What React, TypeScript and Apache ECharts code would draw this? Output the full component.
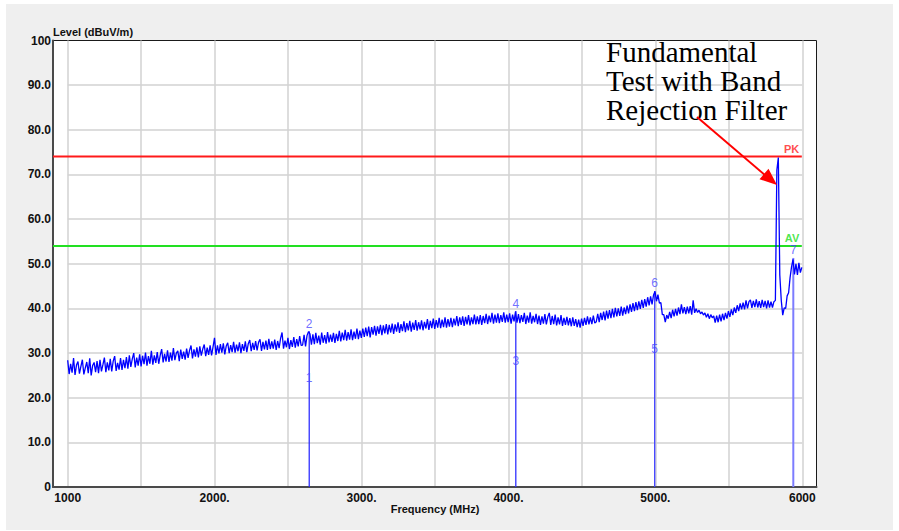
import React, { useEffect, useRef } from "react";
import * as echarts from "echarts";

// ---- data ----
const START_MHZ = 1000;
const STEP_MHZ = 10;
// measured level (dBuV/m), one reading every 10 MHz from 1000 to 6000 MHz
const levelDbuv: number[] = [
  28.4, 25.3, 27.6, 25.6, 28.9, 25.1, 27.3, 28.1, 25.4, 27.0, 28.5, 25.2, 26.7, 28.0, 25.5, 28.8, 25.0, 27.2, 27.9, 25.7,
  28.2, 25.5, 28.5, 25.9, 27.4, 29.0, 25.7, 27.9, 26.1, 28.7, 25.9, 28.2, 29.3, 26.0, 27.8, 26.3, 28.9, 26.2, 28.5, 26.6,
  29.1, 26.5, 29.5, 26.9, 28.7, 30.0, 26.8, 29.0, 27.2, 29.7, 27.0, 29.4, 27.5, 30.1, 27.2, 29.3, 27.6, 30.5, 27.4, 29.5,
  27.8, 30.2, 27.6, 29.5, 30.9, 27.9, 29.8, 28.1, 30.6, 28.0, 30.1, 28.3, 31.1, 28.4, 30.0, 30.5, 28.2, 30.8, 28.7, 30.3,
  28.5, 31.0, 28.9, 30.6, 31.7, 28.8, 30.8, 29.2, 31.3, 29.0, 31.5, 29.4, 30.9, 31.9, 29.3, 31.2, 29.6, 31.7, 29.5, 31.4,
  33.4, 29.6, 31.7, 29.9, 32.0, 30.1, 32.2, 29.7, 31.6, 32.3, 30.0, 31.8, 30.2, 32.5, 30.1, 31.9, 30.4, 32.4, 30.0, 32.0,
  30.5, 32.6, 30.2, 32.1, 32.9, 30.4, 32.3, 30.7, 32.7, 30.6, 32.4, 33.1, 30.5, 32.5, 30.8, 32.8, 30.7, 33.2, 30.9, 32.6,
  31.0, 33.0, 30.7, 32.7, 31.1, 33.3, 34.6, 31.0, 32.8, 31.3, 33.4, 30.9, 32.9, 31.4, 33.6, 31.2, 33.1, 31.5, 33.8, 31.7,
  31.8, 34.1, 31.5, 33.9, 34.8, 34.3, 31.9, 34.2, 32.0, 34.5, 32.2, 33.9, 31.9, 34.6, 32.3, 34.0, 32.1, 34.7, 32.4, 34.1,
  32.5, 34.5, 32.3, 34.3, 32.7, 35.0, 32.6, 34.6, 32.9, 35.2, 32.8, 34.7, 33.0, 35.3, 32.9, 34.8, 33.2, 35.5, 33.1, 35.0,
  33.4, 35.5, 33.6, 35.7, 33.8, 35.9, 33.5, 35.8, 34.1, 36.1, 33.9, 36.0, 34.3, 36.3, 34.0, 36.2, 34.4, 36.5, 34.2, 36.3,
  34.6, 36.6, 34.3, 36.4, 34.8, 36.9, 34.5, 36.5, 34.9, 37.1, 34.7, 36.7, 35.1, 37.2, 34.8, 36.8, 35.2, 37.4, 35.0, 36.9,
  35.3, 37.3, 35.1, 37.0, 35.5, 37.6, 35.2, 37.2, 35.6, 37.7, 35.4, 37.4, 35.7, 37.9, 35.6, 37.5, 35.8, 38.0, 35.7, 37.6,
  35.9, 37.9, 35.8, 37.7, 36.2, 38.3, 36.0, 38.0, 36.3, 38.2, 36.1, 38.1, 36.4, 38.5, 36.2, 38.0, 36.5, 38.6, 36.4, 38.2,
  36.5, 38.5, 36.3, 38.3, 36.7, 38.8, 36.5, 38.4, 36.9, 39.0, 36.6, 38.6, 36.8, 38.9, 36.7, 38.5, 37.0, 39.1, 36.8, 38.6,
  36.9, 38.9, 36.6, 38.6, 37.1, 39.3, 36.8, 38.7, 36.7, 38.5, 37.0, 39.0, 36.5, 38.4, 36.8, 39.1, 36.6, 38.3, 36.9, 38.8,
  36.5, 38.4, 36.3, 38.2, 36.6, 38.7, 36.4, 38.1, 39.0, 36.3, 38.3, 36.5, 38.6, 36.2, 38.0, 36.4, 38.5, 36.1, 37.9, 36.3,
  38.1, 36.2, 37.8, 36.0, 38.0, 36.1, 37.6, 35.8, 37.5, 35.7, 37.7, 36.1, 37.9, 36.3, 38.2, 36.4, 38.0, 36.5, 38.4, 36.7,
  37.0, 38.8, 36.9, 39.0, 37.4, 39.3, 37.3, 39.5, 37.7, 39.6, 37.8, 39.9, 38.0, 40.1, 38.2, 40.0, 38.3, 40.4, 38.4, 40.2,
  38.7, 40.6, 38.9, 40.9, 39.2, 41.2, 39.4, 41.4, 39.6, 41.6, 39.9, 41.9, 40.1, 42.1, 40.4, 42.5, 40.7, 42.7, 40.9, 43.0,
  43.8, 41.6, 43.1, 41.2, 41.3, 38.6, 38.6, 36.9, 38.5, 37.7, 39.2, 37.8, 39.7, 38.2, 39.9, 38.4, 40.2, 38.7, 40.9, 38.9,
  40.3, 38.7, 40.4, 38.9, 40.5, 38.6, 41.8, 39.0, 39.9, 39.1, 39.6, 38.8, 39.2, 38.5, 39.0, 38.0, 38.8, 37.7, 38.6, 37.9,
  38.3, 36.8, 38.4, 36.9, 38.6, 37.1, 38.8, 37.4, 39.0, 37.7, 39.4, 38.1, 39.8, 38.5, 40.2, 39.0, 40.7, 39.4, 41.1, 39.8,
  41.3, 39.8, 41.8, 40.0, 41.5, 41.9, 40.1, 41.7, 40.3, 42.0, 40.2, 41.6, 40.1, 41.9, 40.3, 41.7, 40.0, 41.8, 40.2, 41.5,
  40.2, 41.5, 41.8, 71.0, 73.8, 47.5, 41.8, 38.5, 40.1, 40.0, 42.8, 43.5, 46.9, 49.3, 51.0, 47.6, 50.0, 47.5, 50.2, 48.0,
  49.2,
];
const freqMhz = levelDbuv.map((_, i) => START_MHZ + STEP_MHZ * i);

const markerNames = ["1", "2", "3", "4", "5", "6", "7"];
const markerFreqs = [2645, 2645, 4052, 4052, 4998, 4998, 5942];
const markerLevels = [22.8, 34.9, 26.6, 39.4, 29.3, 43.9, 51.3];

const pkLimit = 74;
const avLimit = 54;

const xMin = 900;
const xMax = 6100;
const gridStartMhz = 1000;
const gridEndMhz = 6000;
const annotationLines = ["Fundamental", "Test with Band", "Rejection Filter"];

// ---- layout ----
const W = 899;
const H = 531;
const FRAME_L = 53;
const FRAME_T = 40.5;
const FRAME_R = 816.5;
const FRAME_B = 487;
const INNER_L = 67.7;
const INNER_R = 802.3;
const SANS = "'Liberation Sans', Arial, Helvetica, sans-serif";
const SERIF = "'Liberation Serif', 'Times New Roman', serif";

export default function App() {
  const ref = useRef<HTMLDivElement>(null);

  useEffect(() => {
    if (!ref.current) return;
    const chart = echarts.init(ref.current, undefined, { renderer: "svg" });

    // stems: one per marker frequency, up to the highest marker there
    const stemMap = new Map<number, number>();
    markerFreqs.forEach((f, i) => {
      stemMap.set(f, Math.max(stemMap.get(f) ?? 0, markerLevels[i]));
    });
    const stems = Array.from(stemMap.entries());
    const stemStyles = [
      { color: "#1f1fff", width: 1.2 },
      { color: "#3030ff", width: 1.3 },
      { color: "#4040ff", width: 1.3 },
      { color: "#7c7cff", width: 2 },
    ];

    const stemSeries = stems.map(([f, top], i) => ({
      type: "line",
      xAxisIndex: 0,
      yAxisIndex: 0,
      data: [
        [f, 0],
        [f, top],
      ],
      symbol: "none",
      silent: true,
      z: 4,
      lineStyle: { color: stemStyles[i % stemStyles.length].color, width: stemStyles[i % stemStyles.length].width },
    }));

    const option: any = {
      animation: false,
      backgroundColor: "#ffffff",
      grid: [
        {
          left: FRAME_L,
          top: FRAME_T,
          width: FRAME_R - FRAME_L,
          height: FRAME_B - FRAME_T,
          show: true,
          backgroundColor: "#ffffff",
          borderColor: "#1a1a1a",
          borderWidth: 1,
          containLabel: false,
          outerBoundsMode: "none",
        },
        {
          left: INNER_L,
          top: FRAME_T,
          width: INNER_R - INNER_L,
          height: FRAME_B - FRAME_T,
          show: false,
          containLabel: false,
          outerBoundsMode: "none",
        },
      ],
      xAxis: [
        {
          gridIndex: 0,
          type: "value",
          min: xMin,
          max: xMax,
          z: 3,
          axisLine: { show: true, onZero: false, lineStyle: { color: "#4a4a4a", width: 2 } },
          axisTick: { show: false },
          axisLabel: { show: false },
          splitLine: { show: false },
        },
        {
          gridIndex: 1,
          type: "value",
          min: gridStartMhz,
          max: gridEndMhz,
          interval: 500,
          z: 1,
          axisLine: { show: false },
          axisTick: { show: false },
          axisLabel: {
            show: true,
            margin: 5,
            color: "#111",
            fontFamily: SANS,
            fontWeight: "bold",
            fontSize: 12,
            formatter: (v: number) => {
              if (v % 1000 !== 0) return "";
              if (v === gridStartMhz || v === gridEndMhz) return String(v);
              return v + ".";
            },
          },
          splitLine: { show: true, lineStyle: { color: "#d2d2d2", width: 1.5 } },
        },
      ],
      yAxis: [
        {
          gridIndex: 0,
          type: "value",
          min: 0,
          max: 100,
          interval: 10,
          z: 3,
          axisLine: { show: true, onZero: false, lineStyle: { color: "#4a4a4a", width: 2 } },
          axisTick: { show: false },
          axisLabel: {
            show: true,
            margin: 2,
            color: "#111",
            fontFamily: SANS,
            fontWeight: "bold",
            fontSize: 12,
            formatter: (v: number) => (v === 0 || v === 100 ? String(v) : v.toFixed(1)),
          },
          splitLine: { show: false },
        },
        {
          gridIndex: 1,
          type: "value",
          min: 0,
          max: 100,
          interval: 10,
          z: 1,
          axisLine: { show: false },
          axisTick: { show: false },
          axisLabel: { show: false },
          splitLine: {
            show: true,
            showMaxLine: false,
            showMinLine: false,
            lineStyle: { color: "#d2d2d2", width: 1.5 },
          },
        },
      ],
      series: [
        {
          type: "line",
          name: "PK",
          xAxisIndex: 0,
          yAxisIndex: 0,
          data: [
            [xMin, pkLimit],
            [gridEndMhz, pkLimit],
          ],
          symbol: "none",
          silent: true,
          z: 3,
          lineStyle: { color: "#ff1a1a", width: 2 },
        },
        {
          type: "line",
          name: "AV",
          xAxisIndex: 0,
          yAxisIndex: 0,
          data: [
            [xMin, avLimit],
            [gridEndMhz, avLimit],
          ],
          symbol: "none",
          silent: true,
          z: 3,
          lineStyle: { color: "#22e022", width: 2 },
        },
        ...stemSeries,
        {
          type: "line",
          name: "trace",
          xAxisIndex: 0,
          yAxisIndex: 0,
          data: freqMhz.map((f, i) => [f, levelDbuv[i]]),
          symbol: "none",
          silent: true,
          z: 5,
          lineStyle: { color: "#0000ff", width: 1.3 },
        },
        {
          type: "scatter",
          name: "limit labels",
          xAxisIndex: 0,
          yAxisIndex: 0,
          symbolSize: 1,
          silent: true,
          z: 6,
          itemStyle: { color: "transparent" },
          data: [
            {
              value: [gridEndMhz, pkLimit],
              label: {
                show: true,
                formatter: "PK",
                position: [-2, -2],
                align: "right",
                verticalAlign: "bottom",
                color: "#ff2020",
                fontFamily: SANS,
                fontWeight: "bold",
                fontSize: 11,
              },
            },
            {
              value: [gridEndMhz, avLimit],
              label: {
                show: true,
                formatter: "AV",
                position: [-2, -2],
                align: "right",
                verticalAlign: "bottom",
                color: "#22e022",
                fontFamily: SANS,
                fontWeight: "bold",
                fontSize: 11,
              },
            },
          ],
        },
        {
          type: "scatter",
          name: "markers",
          xAxisIndex: 0,
          yAxisIndex: 0,
          symbolSize: 1,
          silent: true,
          z: 7,
          itemStyle: { color: "transparent" },
          data: markerFreqs.map((f, i) => ({
            value: [f, markerLevels[i]],
            name: markerNames[i],
          })),
          label: {
            show: true,
            position: "top",
            distance: 1,
            formatter: (p: any) => p.name,
            color: "#4a4aff",
            fontFamily: SANS,
            fontSize: 12,
          },
        },
      ],
      graphic: [
        {
          type: "rect",
          silent: true,
          z: -10,
          shape: { x: 6, y: 4, width: 887, height: 526 },
          style: { fill: "#efefef" },
        },
        {
          type: "text",
          silent: true,
          z: 20,
          x: FRAME_L,
          y: 32.3,
          style: {
            text: "Level (dBuV/m)",
            fill: "#111",
            font: `bold 11px ${SANS}`,
            textAlign: "left",
            textVerticalAlign: "middle",
          },
        },
        {
          type: "text",
          silent: true,
          z: 20,
          x: 435,
          y: 509,
          style: {
            text: "Frequency (MHz)",
            fill: "#111",
            font: `bold 11px ${SANS}`,
            textAlign: "center",
            textVerticalAlign: "middle",
          },
        },
        {
          type: "text",
          silent: true,
          z: 20,
          x: 606,
          y: 37,
          style: {
            text: annotationLines.join("\n"),
            fill: "#000",
            font: `29px ${SERIF}`,
            lineHeight: 29,
            textAlign: "left",
            textVerticalAlign: "top",
          },
        },
        {
          type: "line",
          silent: true,
          z: 20,
          shape: { x1: 697, y1: 117, x2: 766, y2: 176 },
          style: { stroke: "#ff0000", lineWidth: 2 },
        },
        {
          type: "polygon",
          silent: true,
          z: 20,
          shape: {
            points: [
              [777, 185],
              [768.5, 168.7],
              [759.5, 179.3],
            ],
          },
          style: { fill: "#ff0000" },
        },
      ],
    };

    chart.setOption(option);
    return () => chart.dispose();
  }, []);

  return (
    <div
      ref={ref}
      style={{ position: "absolute", left: 0, top: 0, width: W, height: H }}
    />
  );
}
